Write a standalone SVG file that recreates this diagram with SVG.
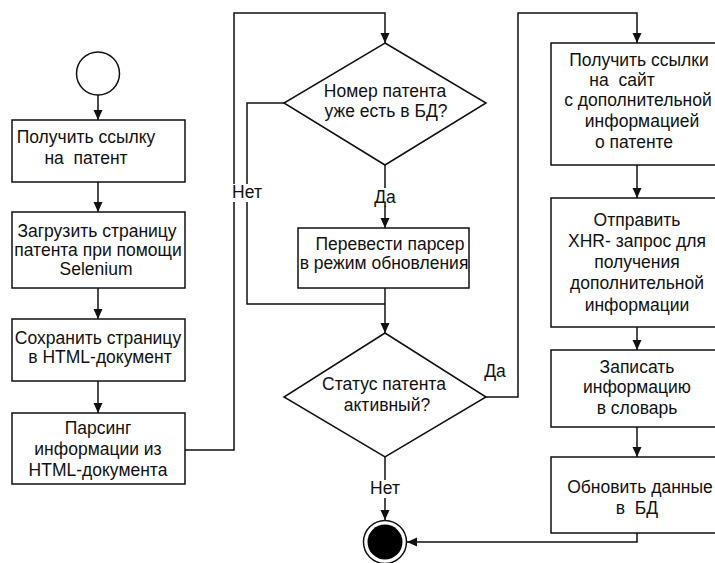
<svg xmlns="http://www.w3.org/2000/svg" width="715" height="563" viewBox="0 0 715 563">
<defs>
<marker id="arr" markerUnits="userSpaceOnUse" markerWidth="10" markerHeight="10" refX="10" refY="5" orient="auto">
<path d="M0,0.5 L10,5 L0,9.5 z" fill="#111"/>
</marker>
<style>
.n{fill:#fff;stroke:#111;stroke-width:1.5}
.t{font-family:"Liberation Sans",Arial,sans-serif;font-size:17.5px;fill:#111;text-anchor:middle;white-space:pre}
.c{fill:none;stroke:#111;stroke-width:1.5}
.lb{fill:#fff;stroke:none}
</style>
</defs>
<rect width="715" height="563" fill="#fff"/>
<g id="connectors">
<path class="c" d="M98,95 V120" marker-end="url(#arr)"/>
<path class="c" d="M98,182 V212" marker-end="url(#arr)"/>
<path class="c" d="M98,288 V319" marker-end="url(#arr)"/>
<path class="c" d="M98,381 V413" marker-end="url(#arr)"/>
<path class="c" d="M185,450 H234 V13 H385 V43" marker-end="url(#arr)"/>
<path class="c" d="M385,165 V228" marker-end="url(#arr)"/>
<path class="c" d="M284,103 H247 V304 H385"/>
<path class="c" d="M385,288 V333" marker-end="url(#arr)"/>
<path class="c" d="M385,457 V520" marker-end="url(#arr)"/>
<path class="c" d="M486,397 H518 V13 H637 V43" marker-end="url(#arr)"/>
<path class="c" d="M637,165 V198" marker-end="url(#arr)"/>
<path class="c" d="M637,327 V350" marker-end="url(#arr)"/>
<path class="c" d="M637,427 V457" marker-end="url(#arr)"/>
<path class="c" d="M637,533 V542 H407" marker-end="url(#arr)"/>
<rect class="lb" x="374" y="188" width="22" height="18"/>
<text class="t" x="385" y="203">Да</text>
<rect class="lb" x="232" y="184" width="30" height="18"/>
<text class="t" x="247" y="198">Нет</text>
<rect class="lb" x="370" y="480" width="30" height="18"/>
<text class="t" x="385" y="494">Нет</text>
<text class="t" x="495" y="377">Да</text>
</g>
<g id="start"><circle class="n" cx="98" cy="73.5" r="21.5"/></g>
<g id="b1"><rect class="n" x="12" y="120" width="173" height="62"/>
<text class="t" x="86" y="143">Получить ссылку</text><text class="t" x="86" y="164">на  патент</text></g>
<g id="b2"><rect class="n" x="12" y="212" width="173" height="76"/>
<text class="t" x="97" y="237">Загрузить страницу</text><text class="t" x="98" y="256">патента при помощи</text><text class="t" x="96" y="275">Selenium</text></g>
<g id="b3"><rect class="n" x="12" y="319" width="173" height="62"/>
<text class="t" x="98" y="344">Сохранить страницу</text><text class="t" x="100" y="363">в HTML-документ</text></g>
<g id="b4"><rect class="n" x="12" y="413" width="173" height="71"/>
<text class="t" x="98" y="434">Парсинг</text><text class="t" x="98" y="455">информации из</text><text class="t" x="98" y="476">HTML-документа</text></g>
<g id="d1"><polygon class="n" points="385,43 486,103 385,165 284,103"/>
<text class="t" x="385" y="97">Номер патента</text><text class="t" x="386" y="117">уже есть в БД?</text></g>
<g id="b5"><rect class="n" x="298" y="228" width="171" height="60"/>
<text class="t" x="390" y="250">Перевести парсер</text><text class="t" x="384" y="269">в режим обновления</text></g>
<g id="d2"><polygon class="n" points="385,333 486,397 385,457 284,397"/>
<text class="t" x="384" y="390">Статус патента</text><text class="t" x="387" y="411">активный?</text></g>
<g id="end"><circle cx="385" cy="542" r="21.5" fill="#fff" stroke="#111" stroke-width="1.5"/><circle cx="385" cy="542" r="17.5" fill="#000"/></g>
<g id="b6"><rect class="n" x="551" y="43" width="175" height="122"/>
<text class="t" x="639" y="66">Получить ссылки</text><text class="t" x="622" y="86">на  сайт</text><text class="t" x="638" y="106">с дополнительной</text><text class="t" x="642" y="127">информацией</text><text class="t" x="634" y="148">о патенте</text></g>
<g id="b7"><rect class="n" x="551" y="198" width="175" height="129"/>
<text class="t" x="637" y="226">Отправить</text><text class="t" x="637" y="247">XHR- запрос для</text><text class="t" x="637" y="268">получения</text><text class="t" x="637" y="289">дополнительной</text><text class="t" x="637" y="311">информации</text></g>
<g id="b8"><rect class="n" x="551" y="350" width="175" height="77"/>
<text class="t" x="637" y="373">Записать</text><text class="t" x="637" y="393">информацию</text><text class="t" x="637" y="414">в словарь</text></g>
<g id="b9"><rect class="n" x="551" y="457" width="175" height="76"/>
<text class="t" x="640" y="493">Обновить данные</text><text class="t" x="637" y="514">в  БД</text></g>
</svg>
